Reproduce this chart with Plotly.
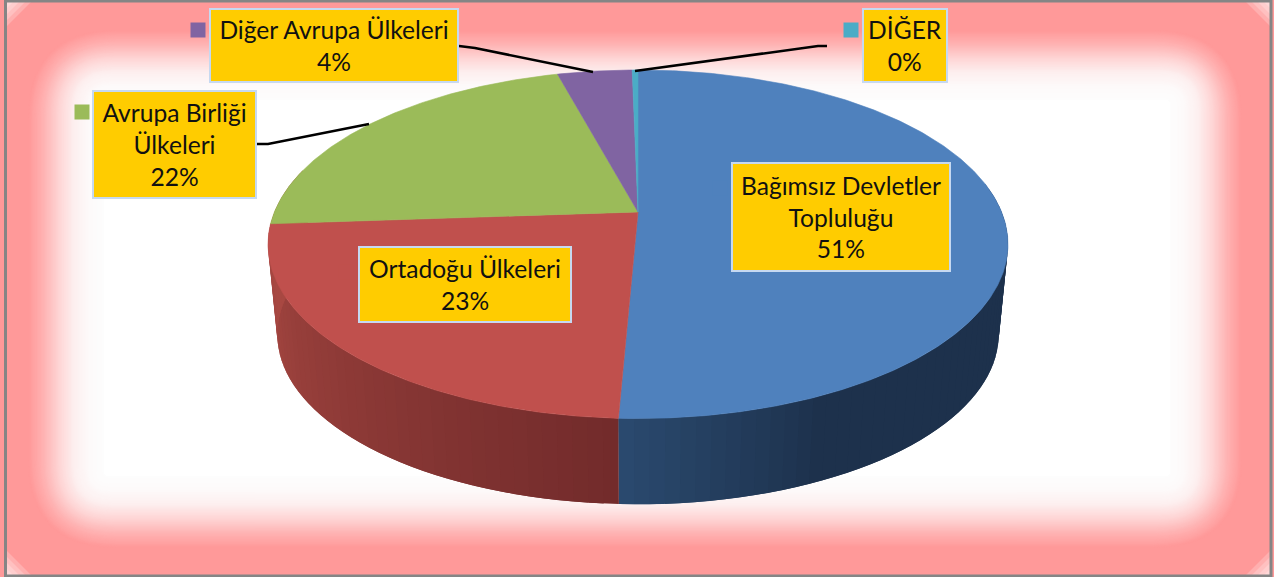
import math
import plotly.graph_objects as go

# ---- data ----
categories = ["Bağımsız Devletler Topluluğu", "Ortadoğu Ülkeleri", "Avrupa Birliği Ülkeleri",
              "Diğer Avrupa Ülkeleri", "DİĞER"]
values = [50.7, 23.2, 21.9, 3.9, 0.3]
label_lines = [["Bağımsız Devletler", "Topluluğu"], ["Ortadoğu Ülkeleri"], ["Avrupa Birliği", "Ülkeleri"],
               ["Diğer Avrupa Ülkeleri"], ["DİĞER"]]

# ---- styles and layout ----
W, H = 1274, 577
colors = ["#4f81bd", "#c0504d", "#9bbb59", "#8064a2", "#4bacc6"]
boxes = [(733, 164, 949, 270), (360, 248, 570, 321), (94, 92, 255, 197), (211, 10, 457, 81), (864, 10, 946, 81)]
keys = [(720, 188), (346, 272), (82, 112), (198, 30), (851, 30)]
leaders = {2: [(257, 144), (268, 144), (369, 124)],
           3: [(459, 46), (475, 48), (593, 72)],
           4: [(635, 71), (818, 46), (827, 46)]}

# perspective projection of the pie disc
CX, APEX_Y, A, B, K = 638.0, 212.0, 363.6, 168.3, 0.185
SIDE_S, SIDE_Y = 0.975, 303.0


def project(theta_deg, bottom=False):
    t = math.radians(theta_deg)
    u, v = math.sin(t), -math.cos(t)
    d = 1 - K * v
    if bottom:
        return CX + SIDE_S * A * u / d, SIDE_Y + SIDE_S * B * v / d
    return CX + A * u / d, APEX_Y + B * v / d


def lerp_color(c1, c2, t):
    t = max(0.0, min(1.0, t))
    return "rgb(%d,%d,%d)" % tuple(round(a + (b - a) * t) for a, b in zip(c1, c2))


def angle_range(a, b, step=1.0):
    n = max(1, int(abs(b - a) / step))
    return [a + (b - a) * i / n for i in range(n + 1)]


# ---- background: feathered pink frame built from nested rounded rectangles ----
PINK = (255, 153, 153)
OFF = (253, 253, 253)
inner = (104, 100, 1170, 476)
outer = (28, 30, 1242, 548)
profile = [(0, 1), (.2, .97), (.4, .86), (.6, .6), (.8, .26), (1, 0)]


def white_frac(t):
    for (t0, f0), (t1, f1) in zip(profile, profile[1:]):
        if t <= t1:
            return f0 + (f1 - f0) * (t - t0) / (t1 - t0)
    return 0


def rrect(x0, y0, x1, y1, r):
    return (f"M{x0 + r},{y0} L{x1 - r},{y0} Q{x1},{y0} {x1},{y0 + r} L{x1},{y1 - r} Q{x1},{y1} {x1 - r},{y1} "
            f"L{x0 + r},{y1} Q{x0},{y1} {x0},{y1 - r} L{x0},{y0 + r} Q{x0},{y0} {x0 + r},{y0} Z")


REFS = dict(xref="x", yref="y", layer="below")
shapes = [dict(type="rect", x0=0, y0=0, x1=W, y1=H, fillcolor="rgb(255,153,153)", line_width=0, **REFS)]
N = 60
for i in range(N, -1, -1):
    t = i / N
    rect = [a + (b - a) * t for a, b in zip(inner, outer)]
    col = lerp_color(PINK, OFF if i else (255, 255, 255), white_frac(t))
    shapes.append(dict(type="path", path=rrect(*rect, 4 + 85 * t), fillcolor=col, line_width=0, **REFS))
# pale tips in the frame's corners
for cx, cy, sx, sy in [(7, 2, 1, 1), (1270, 2, -1, 1), (7, 575, 1, -1), (1270, 575, -1, -1)]:
    for size in (6, 12, 18, 24):
        shapes.append(dict(type="path", path=f"M{cx},{cy} L{cx + sx * size},{cy} L{cx},{cy + sy * size} Z",
                           fillcolor="white", opacity=0.22, line_width=0, **REFS))
shapes.append(dict(type="rect", x0=5.5, y0=1, x1=1271, y1=576, line=dict(color="#858585", width=3), **REFS))

fig = go.Figure()


def polygon(xs, ys, color, lw=0.6):
    fig.add_trace(go.Scatter(x=xs, y=ys, mode="lines", fill="toself", fillcolor=color,
                             line=dict(color=color, width=lw), hoverinfo="skip", showlegend=False))


# ---- slice angles from the values ----
total = sum(values)
edges = [0.0]
for v in values:
    edges.append(edges[-1] + 360.0 * v / total)

# ---- side wall (only the two front slices show); strips overlap so no seams appear ----
side_specs = [
    (80.0, edges[1], lambda th: lerp_color((29, 49, 76), (43, 74, 111), (th - 155) / (edges[1] - 155))),
    (edges[1], 285.0, lambda th: lerp_color((114, 43, 43), (168, 72, 66), (th - edges[1]) / (265 - edges[1]))),
]
for a, b, shade in side_specs:
    ths = angle_range(a, b, 2.0)
    for j, t0 in enumerate(ths[:-1]):
        t1 = ths[min(j + 2, len(ths) - 1)]
        arc = angle_range(t0, t1, 1.0)
        top = [project(th) for th in arc]
        bot = [project(th, True) for th in reversed(arc)]
        pts = top + bot + top[:1]
        polygon([p[0] for p in pts], [p[1] for p in pts], shade((t0 + ths[j + 1]) / 2), lw=0)

# ---- top face ----
for i, c in enumerate(colors):
    pts = [project(th) for th in angle_range(edges[i], edges[i + 1], 0.5)]
    xs = [CX] + [p[0] for p in pts] + [CX]
    ys = [APEX_Y] + [p[1] for p in pts] + [APEX_Y]
    polygon(xs, ys, c)

# ---- leader lines ----
for pts in leaders.values():
    fig.add_trace(go.Scatter(x=[p[0] for p in pts], y=[p[1] for p in pts], mode="lines",
                             line=dict(color="black", width=2.5), hoverinfo="skip", showlegend=False))

# ---- legend keys ----
fig.add_trace(go.Scatter(x=[k[0] for k in keys], y=[k[1] for k in keys], mode="markers",
                         marker=dict(symbol="square", size=15, color=colors, line_width=0),
                         hoverinfo="skip", showlegend=False))

# ---- labels ----
annotations = []
for i, cat in enumerate(categories):
    x0, y0, x1, y1 = boxes[i]
    text = "<br>".join(label_lines[i] + [f"{round(values[i])}%"])
    annotations.append(dict(x=(x0 + x1) / 2, y=(y0 + y1) / 2, xref="x", yref="y", text=text, showarrow=False,
                            width=x1 - x0, height=y1 - y0, align="center", valign="middle",
                            bgcolor="#ffcc00", bordercolor="#c6d9f1", borderwidth=2, borderpad=0,
                            font=dict(family="Lato", size=24.6, color="#111111")))

fig.update_layout(
    width=W, height=H, margin=dict(l=0, r=0, t=0, b=0), paper_bgcolor="#ff9999", plot_bgcolor="rgba(0,0,0,0)",
    xaxis=dict(range=[0, W], visible=False, fixedrange=True),
    yaxis=dict(range=[H, 0], visible=False, fixedrange=True),
    shapes=shapes, annotations=annotations, showlegend=False,
)
fig.write_html("out.html", config=dict(displayModeBar=False),
               post_script="document.body.style.margin='0';document.body.style.overflow='hidden';")
